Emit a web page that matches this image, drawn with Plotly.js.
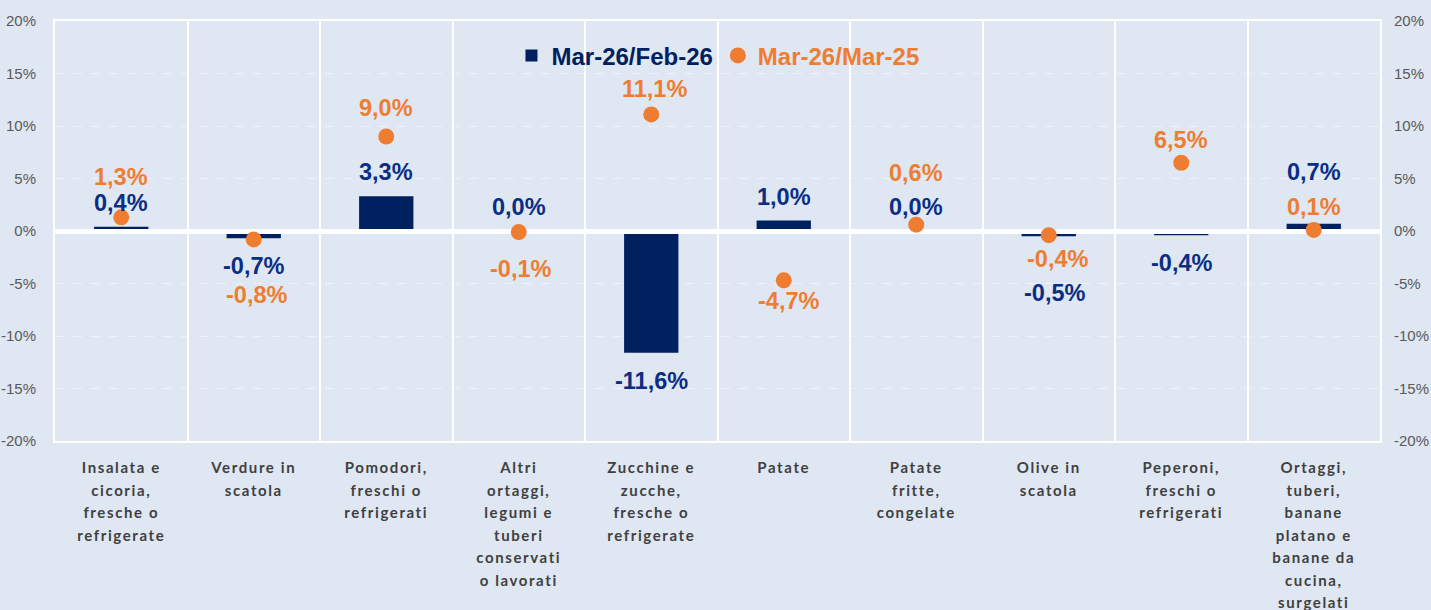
<!DOCTYPE html>
<html><head><meta charset="utf-8">
<script src="https://cdn.plot.ly/plotly-3.0.1.min.js"></script>
<style>
html,body{margin:0;padding:0;background:#dfe7f3;}
#chart{width:1431px;height:610px;}
.xtick text{letter-spacing:1.6px;}
</style></head><body><div id="chart"></div>
<script>
// ---- data ----
const categories = [
  'Insalata e<br>cicoria,<br>fresche o<br>refrigerate',
  'Verdure in<br>scatola',
  'Pomodori,<br>freschi o<br>refrigerati',
  'Altri<br>ortaggi,<br>legumi e<br>tuberi<br>conservati<br>o lavorati',
  'Zucchine e<br>zucche,<br>fresche o<br>refrigerate',
  'Patate',
  'Patate<br>fritte,<br>congelate',
  'Olive in<br>scatola',
  'Peperoni,<br>freschi o<br>refrigerati',
  'Ortaggi,<br>tuberi,<br>banane<br>platano e<br>banane da<br>cucina,<br>surgelati'
];
const monthly = [0.4, -0.7, 3.3, 0.0, -11.6, 1.0, 0.0, -0.5, -0.4, 0.7];
const yearly  = [1.3, -0.8, 9.0, -0.1, 11.1, -4.7, 0.6, -0.4, 6.5, 0.1];
const seriesNames = ['Mar-26/Feb-26', 'Mar-26/Mar-25'];
const yTickVals = [-20, -15, -10, -5, 0, 5, 10, 15, 20];
const yTickText = ['-20%', '-15%', '-10%', '-5%', '0%', '5%', '10%', '15%', '20%'];

// ---- label placement (pixels) ----
const barLabelShift  = [24, -28, 24, 24, -28, 24, 24, -57, -28, 52];
const dotLabelShift  = [40, -56, 29, -37, 25, -21, 52, -24, 23, 23];
const barLabelXShift = [0, 0, 0, 0, 0, 0, 0, 6, 0, 0];
const dotLabelXShift = [0, 3, 0, 2, 3, 5, 0, 9, 0, 0];

const NAVY = '#002060', NAVY_TXT = '#0b2d83', ORANGE = '#ef7d31';
const fmt = v => v.toFixed(1).replace('.', ',') + '%';
const n = categories.length;

const traces = [
  {type: 'bar', x: categories, y: monthly, xaxis: 'x', yaxis: 'y', name: seriesNames[0],
   marker: {color: NAVY, line: {width: 0}}, width: 0.41, hoverinfo: 'skip'},
  {type: 'scatter', mode: 'markers', x: categories, y: yearly, xaxis: 'x2', yaxis: 'y2',
   name: '<span style="color:' + ORANGE + '">' + seriesNames[1] + '</span>',
   marker: {color: ORANGE, size: 16}, hoverinfo: 'skip'}
];

const labelFont = c => ({family: 'Liberation Sans, Arial, sans-serif', size: 23.5, color: c, weight: 700});
const annotations = [];
for (let i = 0; i < n; i++) {
  annotations.push({x: categories[i], y: monthly[i], xref: 'x', yref: 'y', text: fmt(monthly[i]),
    showarrow: false, yshift: barLabelShift[i], xshift: barLabelXShift[i], font: labelFont(NAVY_TXT)});
  annotations.push({x: categories[i], y: yearly[i], xref: 'x2', yref: 'y2', text: fmt(yearly[i]),
    showarrow: false, yshift: dotLabelShift[i], xshift: dotLabelXShift[i], font: labelFont(ORANGE)});
}

const tickFont = {family: 'Liberation Sans, Arial, sans-serif', size: 15, color: '#595959'};
const layout = {
  width: 1431, height: 610,
  paper_bgcolor: '#dfe7f3', plot_bgcolor: 'rgba(0,0,0,0)',
  margin: {l: 55, r: 51, t: 21, b: 169, pad: 0},
  hovermode: false,
  showlegend: true,
  legend: {orientation: 'h', x: 0.3445, xanchor: 'left', y: 0.917, yanchor: 'middle',
    bgcolor: 'rgba(0,0,0,0)', traceorder: 'normal',
    font: {family: 'Liberation Sans, Arial, sans-serif', size: 24, color: NAVY, weight: 700}},
  xaxis: {type: 'category', range: [-0.5, n - 0.5], tickson: 'boundaries',
    showgrid: true, gridcolor: '#ffffff', gridwidth: 2, zeroline: false,
    showline: true, mirror: true, linecolor: '#ffffff', linewidth: 2,
    ticks: '', tickangle: 0, automargin: false, ticklabelstandoff: 12,
    tickfont: {family: 'Lato, sans-serif', size: 15, color: '#404040', weight: 700}},
  yaxis: {range: [-20, 20], tickvals: yTickVals, ticktext: yTickText,
    showgrid: true, gridcolor: 'rgba(255,255,255,0.45)', griddash: 'dash', gridwidth: 1,
    zeroline: false, showline: true, mirror: true, linecolor: '#ffffff', linewidth: 2,
    ticks: '', ticklabelstandoff: 14, automargin: false, tickfont: tickFont},
  xaxis2: {type: 'category', range: [-0.5, n - 0.5], anchor: 'y2', showticklabels: false,
    showgrid: false, zeroline: false, showline: false, ticks: '', automargin: false},
  yaxis2: {range: [-20, 20], anchor: 'x2', side: 'right', tickvals: yTickVals, ticktext: yTickText,
    showgrid: false, zeroline: true, zerolinecolor: '#ffffff', zerolinewidth: 5,
    showline: false, ticks: '', ticklabelstandoff: 13, automargin: false, tickfont: tickFont},
  annotations: annotations
};

Plotly.newPlot('chart', traces, layout, {staticPlot: true}).then(gd => {
  gd.querySelectorAll('.xtick text tspan.line').forEach(ts => {
    const dy = parseFloat(ts.getAttribute('dy'));
    if (!isNaN(dy)) ts.setAttribute('dy', (dy * 1.5 / 1.3) + 'em');
  });
});
</script></body></html>
